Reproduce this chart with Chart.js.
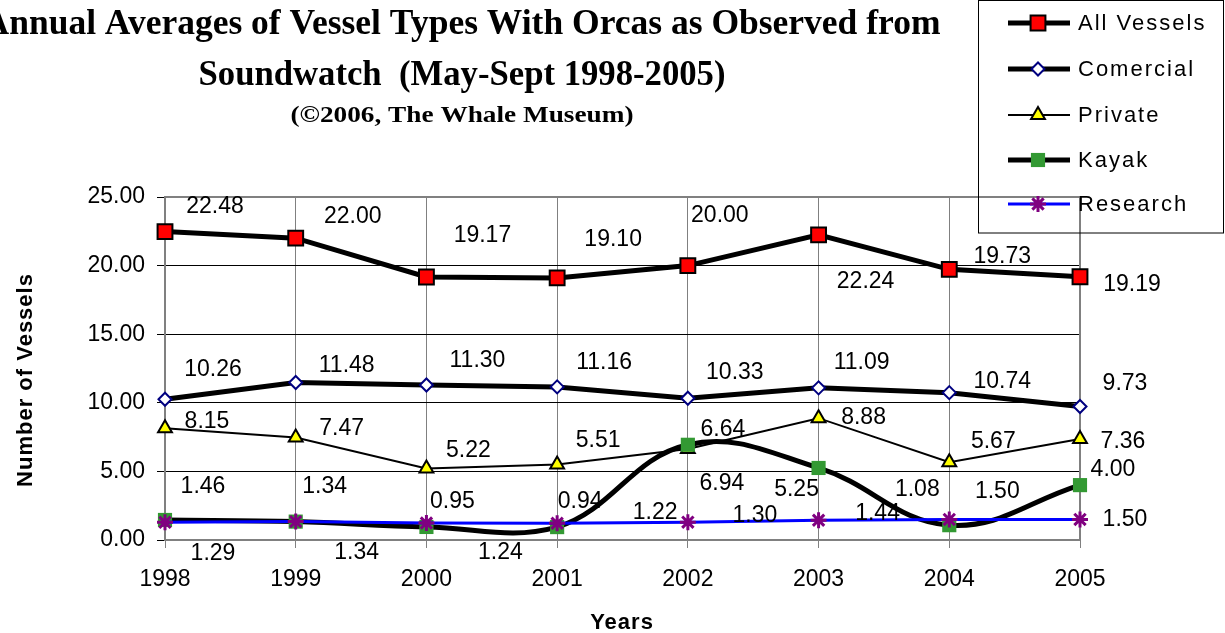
<!DOCTYPE html>
<html>
<head>
<meta charset="utf-8">
<script src="https://cdn.jsdelivr.net/npm/chart.js@4.4.0/dist/chart.umd.min.js"></script>
<style>
body { margin: 0; background: #fff; }
#wrap { width: 1225px; height: 633px; }
</style>
</head>
<body>
<div id="wrap"><canvas id="vesselChart" width="1225" height="633"></canvas></div>
<script>
var years = ['1998', '1999', '2000', '2001', '2002', '2003', '2004', '2005'];
var allVessels = [22.48, 22.00, 19.17, 19.10, 20.00, 22.24, 19.73, 19.19];
var comercial = [10.26, 11.48, 11.30, 11.16, 10.33, 11.09, 10.74, 9.73];
var privateBoats = [8.15, 7.47, 5.22, 5.51, 6.64, 8.88, 5.67, 7.36];
var kayak = [1.46, 1.34, 0.95, 0.94, 6.94, 5.25, 1.08, 4.00];
var research = [1.29, 1.34, 1.24, 1.22, 1.30, 1.44, 1.50, 1.50];
var seriesNames = ['All Vessels', 'Comercial', 'Private', 'Kayak', 'Research'];

var titleLines = ['Annual Averages of Vessel Types With Orcas as Observed from',
	'Soundwatch  (May-Sept 1998-2005)', '(\u00A92006, The Whale Museum)'];
var yTitle = 'Number of Vessels';
var xTitle = 'Years';

// where each value label sits, in pixels from its point (labels were dragged around in the original)
var allShift = [[50, -25], [57, -22], [56, -41], [56, -38], [32, -50], [47, 47], [53, -13], [52, 8]];
var comShift = [[48, -30], [51, -17], [51, -24], [47, -24], [47, -26], [43, -25], [53, -11], [45, -23]];
var privShift = [[42, -7], [46, -9], [42, -18], [41, -24], [35, -19], [45, -1], [44, -21], [43, 3]];
var kayakShift = [[38, -33], [29, -35], [26, -25], [23, -25], [34, 39], [-22, 22], [-32, -36], [33, -15]];
var resShift = [[48, 31], [61, 31], [74, 30], [98, -11], [67, -7], [59, -7], [48, -28], [45, 0]];

function setSpacing(ctx, px) {
	if ('letterSpacing' in ctx) {
		ctx.letterSpacing = px + 'px';
	}
}

function fittedText(ctx, text, cx, cy, width) {
	var w = ctx.measureText(text).width;
	ctx.save();
	ctx.translate(cx, cy);
	ctx.scale(width / w, 1);
	ctx.fillText(text, 0, 0);
	ctx.restore();
}

var extras = {
	id: 'extras',
	beforeDatasetsDraw: function(chart) {
		var ctx = chart.ctx;
		var a = chart.chartArea;
		ctx.save();
		ctx.strokeStyle = '#808080';
		ctx.lineWidth = 2;
		ctx.beginPath();
		ctx.moveTo(a.left, a.top);
		ctx.lineTo(a.right, a.top);
		ctx.lineTo(a.right, a.bottom);
		ctx.stroke();
		ctx.restore();
	},
	afterDatasetsDraw: function(chart) {
		var ctx = chart.ctx;
		ctx.save();
		ctx.font = '23px "Liberation Sans", Arial';
		ctx.fillStyle = '#000';
		ctx.textAlign = 'center';
		ctx.textBaseline = 'middle';
		chart.data.datasets.forEach(function(ds, i) {
			var meta = chart.getDatasetMeta(i);
			meta.data.forEach(function(pt, j) {
				var off = ds.labelShift[j];
				ctx.fillText(ds.data[j].toFixed(2), pt.x + off[0], pt.y + off[1]);
			});
		});
		ctx.restore();
	},
	afterDraw: function(chart) {
		var ctx = chart.ctx;
		ctx.save();
		ctx.fillStyle = '#000';
		ctx.textAlign = 'center';
		ctx.textBaseline = 'middle';

		// title
		ctx.font = 'bold 36px "Liberation Serif", "Times New Roman", serif';
		fittedText(ctx, titleLines[0], 462, 25, 957);
		fittedText(ctx, titleLines[1], 462, 76, 527);
		ctx.font = 'bold 23px "Liberation Serif", "Times New Roman", serif';
		fittedText(ctx, titleLines[2], 462, 116, 343);

		// axis titles
		ctx.font = 'bold 22px "Liberation Sans", Arial';
		setSpacing(ctx, 1);
		ctx.fillText(xTitle, 622, 623);
		ctx.save();
		ctx.translate(26, 380);
		ctx.rotate(-Math.PI / 2);
		ctx.fillText(yTitle, 0, 0);
		ctx.restore();

		// legend box
		ctx.strokeStyle = '#000';
		ctx.lineWidth = 1;
		ctx.strokeRect(978.5, 0.5, 245, 232.5);
		ctx.font = '22px "Liberation Sans", Arial';
		ctx.textAlign = 'left';
		setSpacing(ctx, 2);
		var rowY = [23, 69, 115, 160, 204];
		chart.data.datasets.forEach(function(ds, i) {
			var y = rowY[i];
			ctx.strokeStyle = ds.borderColor;
			ctx.lineWidth = ds.borderWidth;
			ctx.beginPath();
			ctx.moveTo(1008, y);
			ctx.lineTo(1070, y);
			ctx.stroke();
			ctx.fillStyle = ds.pointBackgroundColor;
			ctx.strokeStyle = ds.pointBorderColor;
			ctx.lineWidth = ds.pointBorderWidth;
			Chart.helpers.drawPoint(ctx, {
				pointStyle: ds.pointStyle,
				radius: ds.pointRadius,
				borderWidth: ds.pointBorderWidth,
				rotation: 0
			}, 1038, y);
			ctx.fillStyle = '#000';
			ctx.fillText(ds.label, 1078, y + 1);
		});
		ctx.restore();
	}
};

var ctx = document.getElementById('vesselChart');
var vesselChart = new Chart(ctx, {
	type: 'line',
	data: {
		labels: years,
		datasets: [{
			label: seriesNames[0],
			data: allVessels,
			labelShift: allShift,
			borderColor: '#000',
			borderWidth: 5,
			pointStyle: 'rect',
			pointRadius: 10.5,
			pointBackgroundColor: '#ff0000',
			pointBorderColor: '#000',
			pointBorderWidth: 2,
			tension: 0,
			order: 5
		}, {
			label: seriesNames[1],
			data: comercial,
			labelShift: comShift,
			borderColor: '#000',
			borderWidth: 5,
			pointStyle: 'rectRot',
			pointRadius: 6.5,
			pointBackgroundColor: '#fff',
			pointBorderColor: '#000080',
			pointBorderWidth: 2,
			tension: 0,
			order: 4
		}, {
			label: seriesNames[2],
			data: privateBoats,
			labelShift: privShift,
			borderColor: '#000',
			borderWidth: 2,
			pointStyle: 'triangle',
			pointRadius: 8,
			pointBackgroundColor: '#ffff00',
			pointBorderColor: '#000',
			pointBorderWidth: 2,
			tension: 0,
			order: 3
		}, {
			label: seriesNames[3],
			data: kayak,
			labelShift: kayakShift,
			borderColor: '#000',
			borderWidth: 5,
			pointStyle: 'rect',
			pointRadius: 10,
			pointBackgroundColor: '#339933',
			pointBorderColor: '#339933',
			pointBorderWidth: 0,
			tension: 0.4,
			order: 2
		}, {
			label: seriesNames[4],
			data: research,
			labelShift: resShift,
			borderColor: '#0000ff',
			borderWidth: 3,
			pointStyle: 'star',
			pointRadius: 8,
			pointBackgroundColor: '#800080',
			pointBorderColor: '#800080',
			pointBorderWidth: 3,
			tension: 0,
			order: 1
		}]
	},
	options: {
		responsive: false,
		animation: false,
		events: [],
		layout: { padding: { left: 0, right: 145, top: 197, bottom: 0 } },
		plugins: {
			legend: { display: false },
			title: { display: false },
			tooltip: { enabled: false }
		},
		elements: { line: { fill: false } },
		datasets: { line: { clip: false } },
		scales: {
			x: {
				type: 'category',
				offset: false,
				afterFit: function(scale) { scale.height = 93; },
				grid: { color: '#808080', lineWidth: 1, tickLength: 8, offset: false, drawTicks: true },
				border: { color: '#808080', width: 2 },
				ticks: {
					color: '#000',
					font: { family: '"Liberation Sans", Arial', size: 23 },
					padding: 18,
					maxRotation: 0,
					autoSkip: false
				}
			},
			y: {
				min: 0,
				max: 25,
				afterFit: function(scale) { scale.width = 165; },
				grid: { color: '#000', lineWidth: 1, tickLength: 8 },
				border: { color: '#808080', width: 2 },
				ticks: {
					stepSize: 5,
					color: '#000',
					font: { family: '"Liberation Sans", Arial', size: 23 },
					padding: 12,
					callback: function(v) { return v.toFixed(2); }
				}
			}
		}
	},
	plugins: [extras]
});
</script>
</body>
</html>
